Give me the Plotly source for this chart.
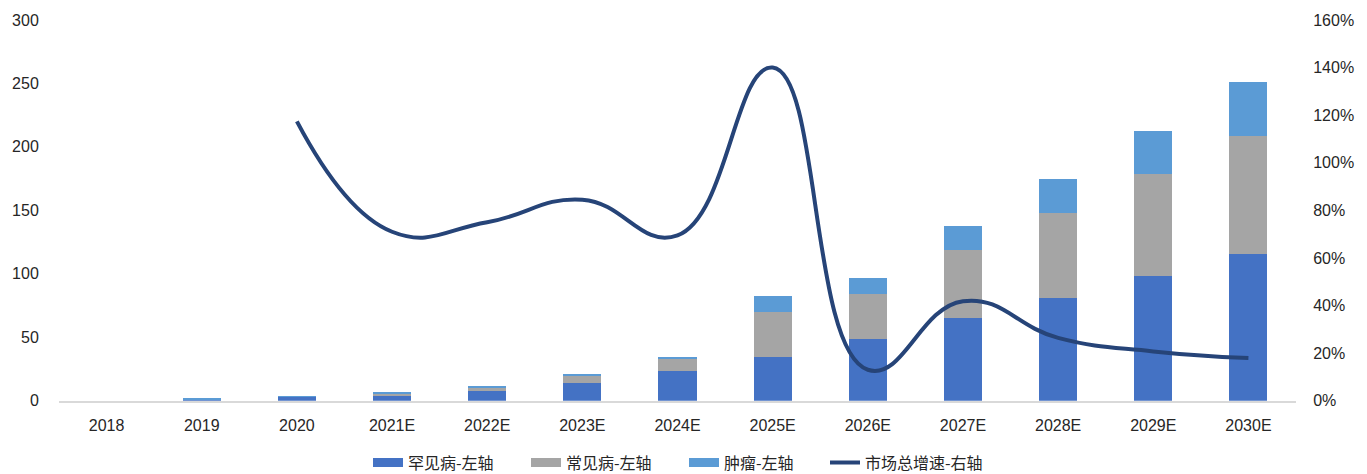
import plotly.graph_objects as go

# Market size by segment (left axis) and total market growth (right axis)
years = ["2018", "2019", "2020", "2021E", "2022E", "2023E", "2024E",
         "2025E", "2026E", "2027E", "2028E", "2029E", "2030E"]
rare = [0.0, 0.7, 3.0, 4.4, 7.4, 14.2, 23.2, 34.5, 48.5, 65.0, 81.0, 98.0, 115.6]
common = [0.0, 0.2, 0.3, 1.5, 3.3, 6.0, 9.8, 35.2, 35.4, 53.5, 67.2, 80.4, 93.0]
tumor = [0.0, 0.6, 0.3, 0.2, 0.2, 0.4, 1.3, 12.9, 12.6, 19.5, 26.5, 33.8, 42.8]
growth = [None, None, 1.174, 0.71, 0.75, 0.845, 0.695, 1.40, 0.13, 0.418,
          0.264, 0.207, 0.179]

names = ["罕见病-左轴", "常见病-左轴", "肿瘤-左轴", "市场总增速-右轴"]
colors = ["#4472C4", "#A5A5A5", "#5B9BD5", "#264478"]

TEXT = "#262626"
TICK_FONT = dict(family="Liberation Sans, Arial, sans-serif", size=16, color=TEXT)
LEGEND_FONT = dict(family="Noto Sans CJK SC, sans-serif", size=16, color=TEXT)

fig = go.Figure()

for vals, name, color in zip([rare, common, tumor], names[:3], colors[:3]):
    fig.add_trace(go.Bar(
        x=years, y=vals, name=name, marker=dict(color=color, line=dict(width=0)),
        showlegend=False, yaxis="y",
    ))

fig.add_trace(go.Scatter(
    x=years, y=growth, name=names[3], mode="lines", yaxis="y2",
    line=dict(color=colors[3], width=4, shape="spline", smoothing=1.3),
    showlegend=False,
))

# One legend box per entry so each swatch can sit at its own place
legend_ids = ["legend", "legend2", "legend3", "legend4"]
legend_x = [368, 526, 684, 825]
for name, color, width, lid in zip(names, colors, [9, 9, 9, 4], legend_ids):
    fig.add_trace(go.Scatter(
        x=[None], y=[None], mode="lines", name=name,
        line=dict(color=color, width=width), yaxis="y", legend=lid,
    ))

legend_style = {}
for lid, lx in zip(legend_ids, legend_x):
    legend_style[lid] = dict(
        orientation="h", xref="container", yref="container",
        x=lx / 1367, xanchor="left", y=0.024, yanchor="middle",
        font=LEGEND_FONT, bgcolor="rgba(0,0,0,0)",
    )

fig.update_layout(
    width=1367, height=474,
    margin=dict(l=55, r=71, t=20, b=67),
    paper_bgcolor="white", plot_bgcolor="white",
    barmode="stack", bargap=0.6,
    xaxis=dict(
        type="category", showgrid=False, zeroline=False,
        showline=True, linecolor="#D9D9D9", linewidth=1.5,
        ticks="outside", ticklen=9, tickcolor="rgba(0,0,0,0)",
        tickfont=TICK_FONT,
    ),
    yaxis=dict(
        range=[0, 300], dtick=50, showgrid=False, zeroline=False,
        showline=False, ticks="outside", ticklen=16,
        tickcolor="rgba(0,0,0,0)", tickfont=TICK_FONT,
    ),
    yaxis2=dict(
        range=[0, 1.6], dtick=0.2, tickformat=".0%", overlaying="y",
        side="right", showgrid=False, zeroline=False, showline=False,
        ticks="outside", ticklen=13, tickcolor="rgba(0,0,0,0)",
        tickfont=TICK_FONT,
    ),
    **legend_style,
)

fig.write_html("out.html")
